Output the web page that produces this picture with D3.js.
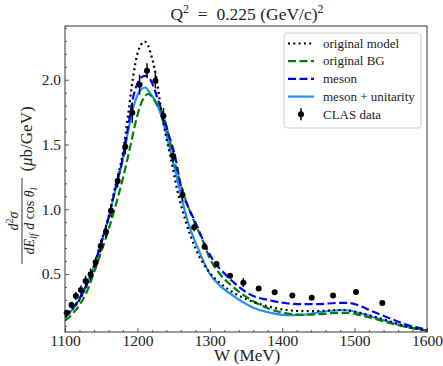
<!DOCTYPE html>
<html>
<head>
<meta charset="utf-8">
<script src="https://cdn.jsdelivr.net/npm/d3@7"></script>
<style>
  html, body { margin: 0; padding: 0; background: #fff; }
  svg { display: block; font-family: "Liberation Serif", "Times New Roman", Times, serif; }
  svg text { font-family: "Liberation Serif", "Times New Roman", Times, serif !important; fill: #222; }
</style>
</head>
<body>
<svg id="chart" width="443" height="366"></svg>
<script>
// CLAS inclusive data: W (MeV), cross section (μb/GeV), uncertainty
const dataW = [1102.3, 1109, 1115, 1122, 1128.5, 1135.4, 1142.4, 1149.3, 1156.6, 1163.5,
  1172.8, 1183.3, 1193, 1203, 1213.3, 1224.8, 1236, 1249.4, 1262.4, 1278.4,
  1292.8, 1309.3, 1327.9, 1346.3, 1367.5, 1389.6, 1414, 1440.7, 1470.2, 1501.9, 1538.3];
const dataY = [0.201, 0.26, 0.33, 0.376, 0.446, 0.497, 0.59, 0.716, 0.827, 0.989,
  1.218, 1.483, 1.745, 1.962, 2.07, 1.993, 1.722, 1.412, 1.11, 0.86,
  0.711, 0.577, 0.487, 0.433, 0.387, 0.358, 0.333, 0.317, 0.333, 0.361, 0.276];
const dataErr = [0.02, 0.025, 0.03, 0.035, 0.04, 0.045, 0.04, 0.05, 0.05, 0.05,
  0.05, 0.06, 0.08, 0.077, 0.058, 0.06, 0.06, 0.05, 0.05, 0.03,
  0.025, 0.02, 0.02, 0.035, 0.015, 0.012, 0.012, 0.012, 0.012, 0.012, 0.012];

// Model curves
const origModelW = [1100, 1110, 1120, 1130, 1140, 1150, 1160, 1170, 1180, 1187, 1194, 1200, 1205, 1210,
  1215, 1220, 1226, 1233, 1240, 1246, 1255, 1266, 1280, 1300, 1314, 1330, 1360, 1380, 1406,
  1430, 1455, 1480, 1500, 1520, 1543, 1572, 1600];
const origModelY = [0.165, 0.225, 0.30, 0.41, 0.56, 0.75, 0.94, 1.19, 1.44, 1.72, 2.02, 2.20, 2.27, 2.295,
  2.26, 2.17, 2.02, 1.76, 1.55, 1.40, 1.15, 0.92, 0.70, 0.51, 0.43, 0.365, 0.285, 0.25, 0.222,
  0.213, 0.215, 0.222, 0.21, 0.182, 0.145, 0.093, 0.065];

const origBgW = [1100, 1110, 1120, 1130, 1140, 1150, 1160, 1170, 1180, 1190, 1197, 1204, 1210, 1215,
  1220, 1227, 1236, 1243, 1249.5, 1260, 1270, 1277.6, 1290, 1300, 1314, 1330, 1360, 1380, 1406,
  1430, 1452, 1475, 1490, 1507, 1525, 1543, 1572, 1600];
const origBgY = [0.14, 0.19, 0.26, 0.36, 0.51, 0.67, 0.84, 1.03, 1.24, 1.48, 1.66, 1.80, 1.87, 1.89,
  1.87, 1.81, 1.72, 1.57, 1.41, 1.19, 1.02, 0.917, 0.76, 0.62, 0.50, 0.41, 0.29, 0.235, 0.196,
  0.185, 0.19, 0.20, 0.20, 0.183, 0.158, 0.13, 0.09, 0.063];

const mesonW = [1100, 1110, 1120, 1130, 1140, 1150, 1160, 1170, 1180, 1187, 1194, 1200, 1206, 1212,
  1218, 1224, 1230, 1235, 1243, 1252, 1262, 1270, 1280, 1300, 1309, 1314, 1330, 1360, 1380, 1406,
  1430, 1452, 1475, 1490, 1507, 1525, 1543, 1572, 1600];
const mesonY = [0.17, 0.23, 0.31, 0.42, 0.56, 0.74, 0.93, 1.17, 1.40, 1.63, 1.86, 1.97, 2.02, 2.03,
  2.00, 1.92, 1.82, 1.74, 1.58, 1.41, 1.13, 1.02, 0.90, 0.65, 0.57, 0.54, 0.45, 0.33, 0.30, 0.274,
  0.267, 0.268, 0.276, 0.277, 0.255, 0.21, 0.17, 0.108, 0.07];

const unitW = [1100, 1110, 1120, 1130, 1140, 1150, 1160, 1170, 1180, 1187, 1194, 1200, 1206, 1211,
  1217, 1224, 1232, 1240, 1247.5, 1258, 1269, 1285, 1300, 1314, 1330, 1360, 1380, 1406,
  1430, 1452, 1470, 1488, 1507, 1525, 1543, 1572, 1600];
const unitY = [0.165, 0.225, 0.305, 0.415, 0.555, 0.735, 0.93, 1.16, 1.39, 1.60, 1.78, 1.88, 1.93, 1.94,
  1.90, 1.84, 1.74, 1.58, 1.41, 1.16, 0.917, 0.68, 0.50, 0.41, 0.34, 0.24, 0.205, 0.183,
  0.185, 0.205, 0.218, 0.222, 0.198, 0.168, 0.138, 0.092, 0.065];

const xTicks = [1100, 1200, 1300, 1400, 1500, 1600];
const yTicks = [0.5, 1.0, 1.5, 2.0];
const legendLabels = ["original model", "original BG", "meson", "meson + unitarity", "CLAS data"];

const FONT = '"Liberation Serif", "Times New Roman", Times, serif';
const svg = d3.select("#chart").attr("font-family", FONT);
const plot = { left: 65, right: 427, top: 26, bottom: 332 };

const x = d3.scaleLinear().domain([1100, 1600]).range([plot.left, plot.right]);
const y = d3.scaleLinear().domain([0.052, 2.415]).range([plot.bottom, plot.top]);

svg.append("defs").append("clipPath").attr("id", "clip")
  .append("rect").attr("x", plot.left).attr("y", plot.top)
  .attr("width", plot.right - plot.left).attr("height", plot.bottom - plot.top);

const axisColor = "#333";

// Axes with inward ticks
const xAxis = svg.append("g").attr("transform", `translate(0,${plot.bottom})`)
  .call(d3.axisBottom(x).tickValues(xTicks).tickFormat(d3.format("d")).tickSizeInner(-4).tickSizeOuter(0).tickPadding(3));
const xMinor = svg.append("g").attr("transform", `translate(0,${plot.bottom})`)
  .call(d3.axisBottom(x).tickValues(d3.range(1120, 1600, 20).filter(v => v % 100 !== 0)).tickFormat("").tickSizeInner(-2).tickSizeOuter(0));
const yAxis = svg.append("g").attr("transform", `translate(${plot.left},0)`)
  .call(d3.axisLeft(y).tickValues(yTicks).tickFormat(d3.format(".1f")).tickSizeInner(-4).tickSizeOuter(0).tickPadding(4));
const yMinor = svg.append("g").attr("transform", `translate(${plot.left},0)`)
  .call(d3.axisLeft(y).tickValues(d3.range(1, 25).map(v => v / 10).filter(v => Math.abs(v * 2 - Math.round(v * 2)) > 1e-6)).tickFormat("").tickSizeInner(-2).tickSizeOuter(0));

[xAxis, xMinor, yAxis, yMinor].forEach(g => {
  g.attr("font-family", FONT);
  g.select(".domain").remove();
  g.selectAll("line").attr("stroke", axisColor).attr("stroke-width", 0.8);
  g.selectAll("text").attr("font-size", 15.5).attr("fill", "#333").attr("font-family", FONT);
});

// Model curves
const line = d3.line().x(d => x(d[0])).y(d => y(d[1])).curve(d3.curveMonotoneX);
const series = [
  { W: unitW, V: unitY, color: "#1e90ff", dash: null },
  { W: origBgW, V: origBgY, color: "#008000", dash: "8,3.5" },
  { W: mesonW, V: mesonY, color: "#0000ff", dash: "8,3.5" },
  { W: origModelW, V: origModelY, color: "#000", dash: "2,3.3" }
];
const curves = svg.append("g").attr("clip-path", "url(#clip)");
series.forEach(s => {
  curves.append("path")
    .datum(s.W.map((w, i) => [w, s.V[i]]))
    .attr("d", line)
    .attr("fill", "none")
    .attr("stroke", s.color)
    .attr("stroke-width", 2.2)
    .attr("stroke-dasharray", s.dash);
});

// Data points with error bars
const pts = dataW.map((w, i) => ({ w, v: dataY[i], e: dataErr[i] }));
const dataG = svg.append("g");
dataG.selectAll("line.err").data(pts).join("line")
  .attr("x1", d => x(d.w)).attr("x2", d => x(d.w))
  .attr("y1", d => y(d.v - d.e)).attr("y2", d => y(d.v + d.e))
  .attr("stroke", "#000").attr("stroke-width", 1.5);
dataG.selectAll("circle").data(pts).join("circle")
  .attr("cx", d => x(d.w)).attr("cy", d => y(d.v)).attr("r", 3).attr("fill", "#000");

// Frame
svg.append("rect").attr("x", plot.left).attr("y", plot.top)
  .attr("width", plot.right - plot.left).attr("height", plot.bottom - plot.top)
  .attr("fill", "none").attr("stroke", axisColor).attr("stroke-width", 1);

// Legend
const lg = svg.append("g");
lg.append("rect").attr("x", 284).attr("y", 33).attr("width", 137).attr("height", 95)
  .attr("rx", 3).attr("fill", "#fff").attr("fill-opacity", 0.8)
  .attr("stroke", "#d0d0d0").attr("stroke-width", 1);
const legendStyles = [
  { color: "#000", dash: "2,3.3" },
  { color: "#008000", dash: "8,3.5" },
  { color: "#0000ff", dash: "8,3.5" },
  { color: "#1e90ff", dash: null },
  null
];
legendLabels.forEach((lab, i) => {
  const yy = 43.5 + i * 17.7;
  const st = legendStyles[i];
  if (st) {
    lg.append("line").attr("x1", 288).attr("x2", 314).attr("y1", yy).attr("y2", yy)
      .attr("stroke", st.color).attr("stroke-width", 2.2).attr("stroke-dasharray", st.dash);
  } else {
    lg.append("line").attr("x1", 301).attr("x2", 301).attr("y1", yy - 6).attr("y2", yy + 6)
      .attr("stroke", "#000").attr("stroke-width", 1.5);
    lg.append("circle").attr("cx", 301).attr("cy", yy).attr("r", 3).attr("fill", "#000");
  }
  lg.append("text").attr("x", 323).attr("y", yy + 4.2).attr("font-size", 13).text(lab);
});

// Title
const title = svg.append("text").attr("x", 247).attr("y", 20).attr("text-anchor", "middle").attr("font-size", 17.5);
title.append("tspan").text("Q");
title.append("tspan").attr("font-size", 12).attr("dy", -7).text("2");
title.append("tspan").attr("dy", 7).text("\u2002=\u20020.225 (GeV/c)");
title.append("tspan").attr("font-size", 12).attr("dy", -7).text("2");

// X label
svg.append("text").attr("x", 247).attr("y", 361).attr("text-anchor", "middle")
  .attr("font-size", 17).text("W (MeV)");

// Y label: fraction followed by units, rotated
const yl = svg.append("g").attr("transform", "translate(22,180) rotate(-90)");
yl.append("line").attr("x1", -84).attr("x2", 2).attr("y1", 0).attr("y2", 0)
  .attr("stroke", "#222").attr("stroke-width", 0.9);
const num = yl.append("text").attr("x", -41).attr("y", -4).attr("text-anchor", "middle")
  .attr("font-size", 14).attr("font-style", "italic");
num.append("tspan").text("d");
num.append("tspan").attr("font-size", 10).attr("dy", -5).attr("font-style", "normal").text("2");
num.append("tspan").attr("dy", 5).text("σ");
const den = yl.append("text").attr("x", -41).attr("y", 12).attr("text-anchor", "middle")
  .attr("font-size", 14).attr("font-style", "italic");
den.append("tspan").text("dE");
den.append("tspan").attr("font-size", 10).attr("dy", 3).text("lf");
den.append("tspan").attr("dy", -3).text(" d ");
den.append("tspan").attr("font-style", "normal").text("cos");
den.append("tspan").text(" θ");
den.append("tspan").attr("font-size", 10).attr("dy", 3).text("l");
const unit = yl.append("text").attr("x", 41).attr("y", 10).attr("text-anchor", "middle").attr("font-size", 17);
unit.append("tspan").text("(");
unit.append("tspan").attr("font-style", "italic").text("μ");
unit.append("tspan").text("b/GeV)");
</script>
</body>
</html>
